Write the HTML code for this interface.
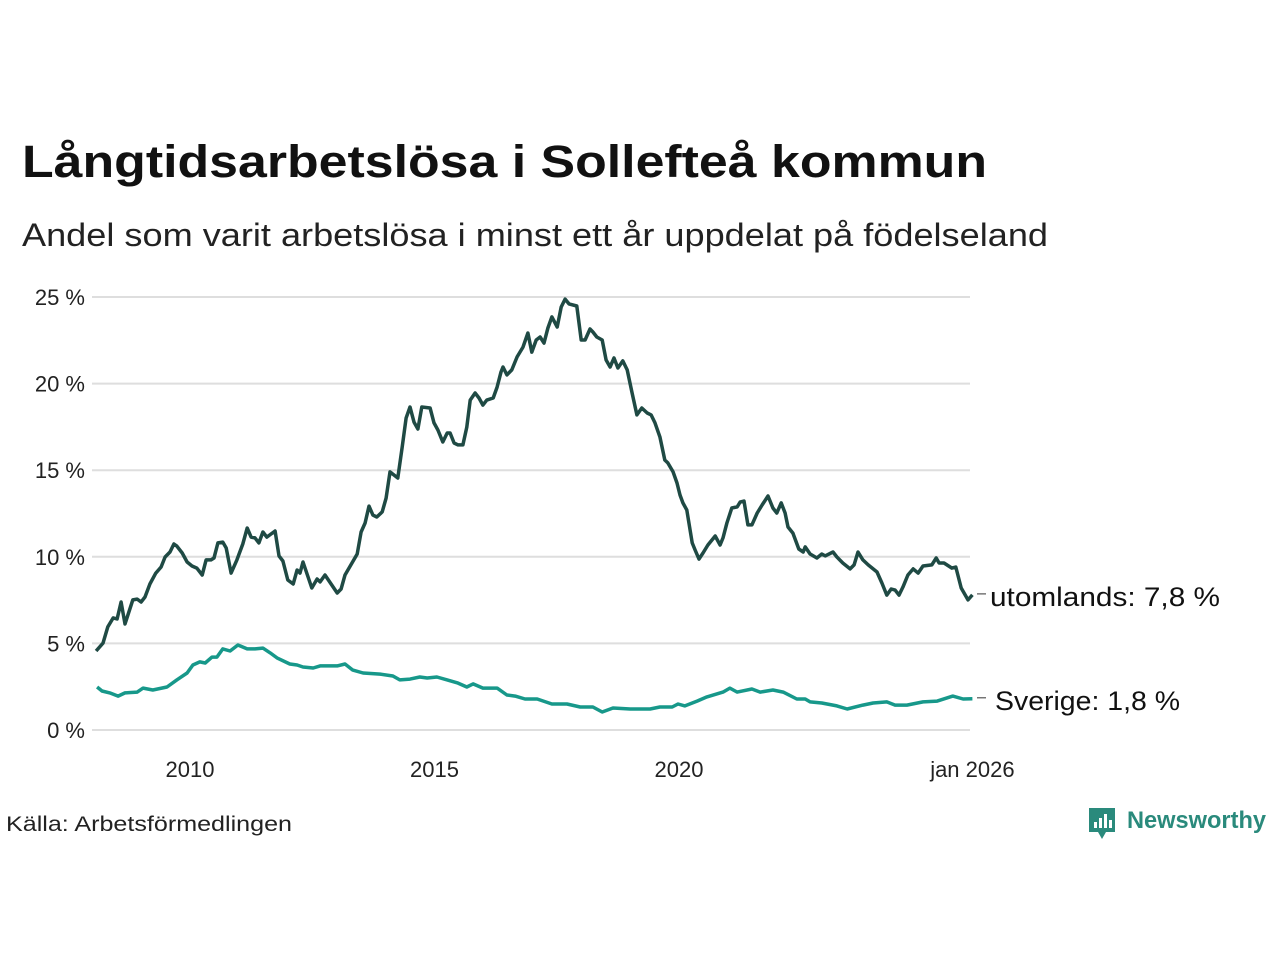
<!DOCTYPE html>
<html><head><meta charset="utf-8"><style>
html,body{margin:0;padding:0;background:#fff;}
svg{display:block;font-family:"Liberation Sans",sans-serif;}
</style></head><body>
<svg id="chart" width="1280" height="960" viewBox="0 0 1280 960">
<text x="22" y="177" font-size="45" font-weight="bold" fill="#111" textLength="965" lengthAdjust="spacingAndGlyphs">Långtidsarbetslösa i Sollefteå kommun</text>
<text x="22" y="246" font-size="32" fill="#222" textLength="1026" lengthAdjust="spacingAndGlyphs">Andel som varit arbetslösa i minst ett år uppdelat på födelseland</text>
<g id="grid"></g>
<g id="yticks"></g>
<g id="xticks"></g>
<g id="lines"></g>
<g id="labels"></g>
<text x="6" y="831" font-size="21" fill="#222" textLength="286" lengthAdjust="spacingAndGlyphs">Källa: Arbetsförmedlingen</text>
<g>
<path d="M1089 808 h26 v24 h-9 l-4 7 l-4 -7 h-9 z" fill="#2a8a7c"/>
<rect x="1094" y="822" width="3" height="6" fill="#fff"/><rect x="1099" y="818" width="3" height="10" fill="#fff"/><rect x="1104" y="814" width="3" height="14" fill="#fff"/><rect x="1109" y="820" width="3" height="8" fill="#fff"/>
<text x="1127" y="828" font-size="24" font-weight="bold" fill="#2a8a7c" textLength="139" lengthAdjust="spacingAndGlyphs">Newsworthy</text>
</g>
</svg>
<script>
const yTicks=[0,5,10,15,20,25];
const yTickLabels=["0 %","5 %","10 %","15 %","20 %","25 %"];
const xTicks=[2010,2015,2020,2026];
const xTickLabels=["2010","2015","2020","jan 2026"];
const utomDates=[2008.08,2008.22,2008.32,2008.43,2008.51,2008.59,2008.67,2008.83,2008.92,2009.00,2009.08,2009.18,2009.30,2009.41,2009.49,2009.59,2009.67,2009.73,2009.84,2009.94,2010.04,2010.14,2010.25,2010.33,2010.43,2010.49,2010.57,2010.67,2010.74,2010.84,2010.96,2011.08,2011.17,2011.25,2011.33,2011.41,2011.49,2011.57,2011.74,2011.82,2011.90,2012.00,2012.11,2012.19,2012.25,2012.31,2012.49,2012.60,2012.66,2012.76,2013.01,2013.09,2013.17,2013.42,2013.50,2013.58,2013.66,2013.74,2013.82,2013.93,2014.01,2014.09,2014.25,2014.34,2014.42,2014.50,2014.58,2014.66,2014.74,2014.91,2014.99,2015.07,2015.17,2015.26,2015.32,2015.40,2015.48,2015.58,2015.66,2015.73,2015.83,2015.91,2015.99,2016.07,2016.20,2016.28,2016.36,2016.40,2016.48,2016.58,2016.69,2016.81,2016.91,2016.99,2017.08,2017.16,2017.24,2017.32,2017.40,2017.51,2017.59,2017.67,2017.75,2017.91,2018.00,2018.08,2018.18,2018.24,2018.32,2018.43,2018.51,2018.59,2018.67,2018.75,2018.85,2018.94,2019.04,2019.14,2019.24,2019.35,2019.43,2019.51,2019.61,2019.71,2019.77,2019.88,2019.96,2020.02,2020.08,2020.16,2020.27,2020.33,2020.41,2020.49,2020.59,2020.74,2020.84,2020.90,2020.98,2021.08,2021.19,2021.25,2021.33,2021.41,2021.49,2021.60,2021.70,2021.82,2021.92,2022.00,2022.09,2022.17,2022.23,2022.33,2022.45,2022.54,2022.58,2022.68,2022.82,2022.92,2022.99,2023.15,2023.23,2023.35,2023.50,2023.58,2023.66,2023.76,2023.87,2024.05,2024.15,2024.25,2024.34,2024.42,2024.50,2024.58,2024.68,2024.79,2024.89,2024.99,2025.17,2025.26,2025.32,2025.42,2025.58,2025.66,2025.77,2025.91,2026.00];
const utomValues=[4.56,5.02,5.95,6.47,6.41,7.39,6.12,7.51,7.56,7.39,7.68,8.43,9.06,9.41,9.99,10.28,10.74,10.62,10.22,9.70,9.47,9.35,8.95,9.82,9.82,9.93,10.80,10.85,10.51,9.06,9.82,10.74,11.66,11.14,11.09,10.80,11.43,11.14,11.49,10.05,9.76,8.66,8.43,9.24,9.06,9.70,8.20,8.72,8.55,8.95,7.91,8.14,8.95,10.16,11.43,11.95,12.93,12.41,12.30,12.59,13.39,14.90,14.55,16.34,18.01,18.65,17.78,17.38,18.65,18.59,17.73,17.32,16.63,17.15,17.15,16.57,16.46,16.46,17.49,19.05,19.46,19.17,18.76,19.05,19.17,19.80,20.67,20.96,20.50,20.79,21.54,22.11,22.92,21.82,22.52,22.69,22.34,23.21,23.85,23.27,24.42,24.88,24.60,24.48,22.52,22.52,23.15,22.98,22.69,22.52,21.36,20.96,21.48,20.90,21.31,20.79,19.46,18.19,18.59,18.30,18.19,17.73,16.92,15.59,15.42,14.90,14.26,13.57,13.11,12.70,10.80,10.39,9.87,10.22,10.68,11.20,10.68,11.09,11.95,12.82,12.88,13.16,13.22,11.84,11.84,12.53,12.99,13.51,12.82,12.53,13.11,12.53,11.72,11.37,10.45,10.28,10.57,10.16,9.93,10.16,10.05,10.28,9.99,9.64,9.30,9.53,10.28,9.82,9.53,9.12,8.49,7.79,8.14,8.08,7.79,8.26,8.95,9.30,9.06,9.47,9.53,9.93,9.64,9.64,9.35,9.41,8.20,7.51,7.8];
const sveDates=[2008.10,2008.20,2008.36,2008.53,2008.67,2008.92,2009.04,2009.24,2009.53,2009.73,2009.94,2010.06,2010.20,2010.31,2010.45,2010.55,2010.67,2010.82,2010.98,2011.17,2011.33,2011.49,2011.64,2011.78,2012.04,2012.19,2012.31,2012.52,2012.66,2013.01,2013.17,2013.33,2013.54,2013.89,2014.15,2014.29,2014.50,2014.70,2014.85,2015.05,2015.26,2015.48,2015.66,2015.79,2015.99,2016.28,2016.48,2016.65,2016.85,2017.10,2017.40,2017.71,2017.98,2018.24,2018.43,2018.65,2019.00,2019.41,2019.61,2019.86,2019.98,2020.12,2020.37,2020.57,2020.90,2021.04,2021.19,2021.49,2021.66,2021.92,2022.13,2022.41,2022.58,2022.68,2022.92,2023.23,2023.44,2023.76,2023.97,2024.25,2024.42,2024.66,2024.99,2025.28,2025.60,2025.81,2026.00];
const sveValues=[2.48,2.25,2.14,1.96,2.14,2.19,2.42,2.31,2.48,2.89,3.29,3.75,3.93,3.87,4.21,4.21,4.68,4.56,4.91,4.68,4.68,4.73,4.45,4.16,3.81,3.75,3.64,3.58,3.70,3.70,3.81,3.46,3.29,3.23,3.12,2.89,2.94,3.06,3.00,3.06,2.89,2.71,2.48,2.66,2.42,2.42,2.02,1.96,1.79,1.79,1.50,1.50,1.33,1.33,1.04,1.27,1.21,1.21,1.33,1.33,1.50,1.39,1.67,1.91,2.19,2.42,2.19,2.37,2.19,2.31,2.19,1.79,1.79,1.62,1.56,1.39,1.21,1.44,1.56,1.62,1.44,1.44,1.62,1.67,1.96,1.79,1.8];
const seriesLabels=["utomlands: 7,8 %","Sverige: 1,8 %"];

const NS="http://www.w3.org/2000/svg";
const X0=92,X1=970;
function xScale(t){return 190+(t-2010)*48.9;}
function yScale(v){return 730-v*17.32;}
function mk(tag,attrs,parent){const e=document.createElementNS(NS,tag);for(const k in attrs)e.setAttribute(k,attrs[k]);parent.appendChild(e);return e;}
const grid=document.getElementById('grid'),yt=document.getElementById('yticks'),xt=document.getElementById('xticks'),lines=document.getElementById('lines'),labels=document.getElementById('labels');
yTicks.forEach((v,i)=>{
  const l=mk('line',{x1:X0,x2:X1,y1:yScale(v),y2:yScale(v),stroke:'#dedede','stroke-width':2},grid);
  
  
  const t=mk('text',{x:85,y:yScale(v)+8,'text-anchor':'end','font-size':22,fill:'#222'},yt);
  t.textContent=yTickLabels[i];
  
  
});
xTicks.forEach((v,i)=>{
  const t=mk('text',{x:xScale(v),y:777,'text-anchor':'middle','font-size':22,fill:'#222'},xt);
  t.textContent=xTickLabels[i];
  
  
});
function path(ds,vs){return ds.map((d,i)=>(i?'L':'M')+xScale(d).toFixed(1)+','+yScale(vs[i]).toFixed(1)).join(' ');}
const p2=mk('path',{d:path(sveDates,sveValues),fill:'none',stroke:'#17988a','stroke-width':3.5,'stroke-linejoin':'round'},lines);


const p1=mk('path',{d:path(utomDates,utomValues),fill:'none',stroke:'#1f4a44','stroke-width':3.5,'stroke-linejoin':'round'},lines);


const lastU=utomValues[utomValues.length-1],lastS=sveValues[sveValues.length-1];
[[lastU,seriesLabels[0],990,230],[lastS,seriesLabels[1],995,185]].forEach(([v,txt,x,w],i)=>{
  const y=yScale(v);
  const ln=mk('line',{x1:977,x2:986,y1:y-1,y2:y-1,stroke:'#333','stroke-width':1},labels);
  
  
  const t=mk('text',{x:x,y:y+11,'font-size':27,fill:'#111',textLength:w,lengthAdjust:'spacingAndGlyphs'},labels);
  t.textContent=txt;
  
  
});
</script>
</body></html>
